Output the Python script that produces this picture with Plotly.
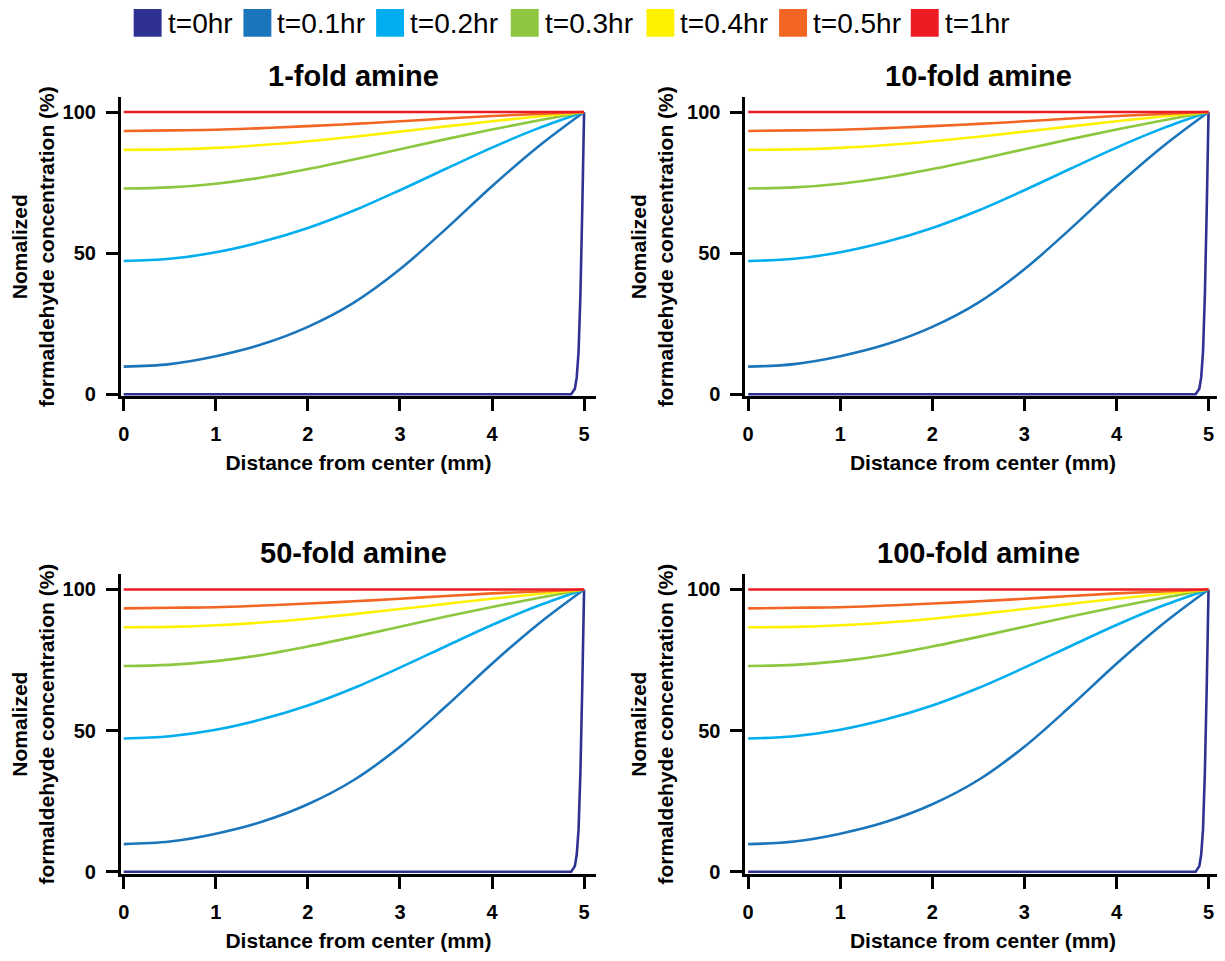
import plotly.graph_objects as go

# The page body has an 8px default margin; reference pixel coords are converted with OFF.
REF_W, REF_H = 1225, 961
OFF = 8
W, H = REF_W - OFF, REF_H - OFF


def px(xp):
    return (xp - OFF) / W


def py(yp):
    return 1 - (yp - OFF) / H


# ---------------- data ----------------
panel_titles = ["1-fold amine", "10-fold amine", "50-fold amine", "100-fold amine"]
series_names = ["t=0hr", "t=0.1hr", "t=0.2hr", "t=0.3hr", "t=0.4hr", "t=0.5hr", "t=1hr"]
series_colors = ["#2e3192", "#1b75bb", "#00aeef", "#8dc63f", "#fff200", "#f26522", "#ed1c24"]

distance = [0, 0.5, 1.0, 1.5, 2.0, 2.5, 3.0, 3.5, 4.0, 4.5, 5.0]
conc_t01 = [9.8, 10.7, 13.5, 17.7, 23.9, 32.5, 44.3, 58.6, 73.7, 87.7, 100]
conc_t02 = [47.2, 48.0, 50.3, 54.0, 58.9, 65.1, 72.3, 79.9, 87.4, 94.2, 100]
conc_t03 = [72.9, 73.3, 74.6, 76.8, 79.8, 83.2, 86.8, 90.4, 93.8, 97.0, 100]
conc_t04 = [86.6, 86.75, 87.3, 88.3, 89.65, 91.25, 93.05, 94.9, 96.7, 98.4, 100]
conc_t05 = [93.3, 93.5, 93.7, 94.3, 95.0, 95.8, 96.7, 97.7, 98.6, 99.3, 100]
conc_t1 = [100, 100, 100, 100, 100, 100, 100, 100, 100, 100, 100]

distance_t0 = [0, 4.86, 4.90, 4.92, 4.94, 4.96, 4.98, 5.0]
conc_t0 = [0, 0, 2, 6, 15, 35, 65, 100]

x_ticks = [0, 1, 2, 3, 4, 5]
y_ticks = [0, 50, 100]

curves = [
    (distance_t0, conc_t0, "linear"),
    (distance, conc_t01, "spline"),
    (distance, conc_t02, "spline"),
    (distance, conc_t03, "spline"),
    (distance, conc_t04, "spline"),
    (distance, conc_t05, "spline"),
    (distance, conc_t1, "spline"),
]

# ---------------- layout geometry (reference pixels) ----------------
FONT = "Liberation Sans, Arial, sans-serif"
col_x0 = [121, 747]        # pixel of x=0
row_y0 = [398, 880]        # pixel of y=0
px_per_x = 92.3
px_per_y = 2.85
x_range = [-0.03, 5.13]
y_range = [-0.7, 105.3]

fig = go.Figure()

for p in range(4):
    r, c = divmod(p, 2)
    ax = "" if p == 0 else str(p + 1)
    xa, ya = "x" + ax, "y" + ax
    for i, (xs, ys, shape) in enumerate(curves):
        fig.add_trace(go.Scatter(
            x=xs, y=ys, mode="lines", name=series_names[i],
            line=dict(color=series_colors[i], width=2.6, shape=shape, smoothing=1.0),
            xaxis=xa, yaxis=ya, showlegend=False, hoverinfo="skip"))

    xl = col_x0[c] + x_range[0] * px_per_x
    xr = col_x0[c] + x_range[1] * px_per_x
    yb = row_y0[r] - y_range[0] * px_per_y
    yt = row_y0[r] - y_range[1] * px_per_y
    common = dict(showline=True, linecolor="black", linewidth=3, ticks="outside",
                  ticklen=12, tickwidth=3, tickcolor="black", showgrid=False,
                  zeroline=False, layer="below traces",
                  tickfont=dict(family=FONT, size=20, color="black", weight="bold"))
    fig.layout["xaxis" + ax] = dict(
        domain=[px(xl), px(xr)], range=x_range, anchor=ya,
        tickvals=x_ticks, ticktext=[str(v) for v in x_ticks], ticklabelstandoff=6,
        title=dict(text="Distance from center (mm)", standoff=12,
                   font=dict(family=FONT, size=21, color="black", weight="bold")),
        **common)
    fig.layout["yaxis" + ax] = dict(
        domain=[py(yb), py(yt)], range=y_range, anchor=xa,
        tickvals=y_ticks, ticktext=[str(v) for v in y_ticks], ticklabelstandoff=6,
        title=dict(text="Nomalized<br>formaldehyde concentration (%)", standoff=8,
                   font=dict(family=FONT, size=21, color="black", weight="bold")),
        **common)

# legend: square swatches + labels
legend_left = [131, 241, 374, 509, 645, 778, 910]
for i, name in enumerate(series_names):
    x0 = legend_left[i]
    fig.add_shape(type="rect", xref="paper", yref="paper",
                  x0=px(x0), x1=px(x0 + 28), y0=py(37), y1=py(9),
                  fillcolor=series_colors[i], line=dict(width=0))
    fig.add_annotation(text=name, x=px(x0 + 32), y=py(24), xref="paper", yref="paper",
                       showarrow=False, xanchor="left", yanchor="middle",
                       font=dict(family=FONT, size=28, color="black"))

title_pos = [(0, 77), (1, 77), (0, 558), (1, 558)]
for t, (cc, ty) in zip(panel_titles, title_pos):
    cx = col_x0[cc] + 2.5 * px_per_x
    fig.add_annotation(text=t, x=px(cx), y=py(ty), xref="paper", yref="paper",
                       showarrow=False, xanchor="center", yanchor="middle",
                       font=dict(family=FONT, size=29, color="black", weight="bold"))

fig.update_layout(
    width=W, height=H, margin=dict(l=0, r=0, t=0, b=0),
    paper_bgcolor="white", plot_bgcolor="white",
    showlegend=False,
)

fig.write_html("out.html")
